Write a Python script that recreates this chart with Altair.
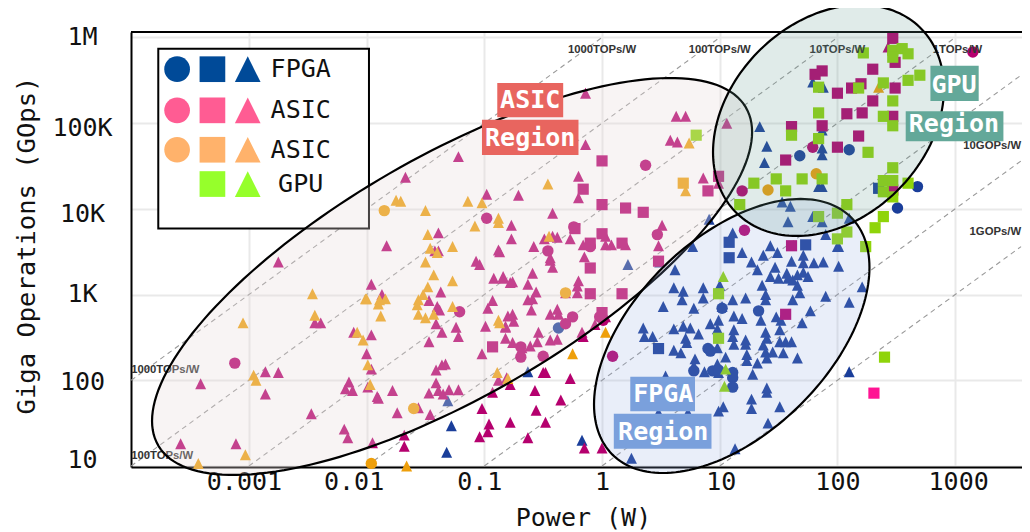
import math
import altair as alt
import pandas as pd

FONT = "DejaVu Sans Mono"

# all readings are (log10 watts, log10 GOps)
fpga_tri = [(1.11,3.72),(1.19,3.49),(1.43,3.57),(1.49,3.49),(1.37,3.46),(1.27,3.38),(1.71,3.46),(1.61,3.39),(1.71,3.37),(1.47,3.32),(1.32,3.29),(1.80,3.37),(1.88,3.38),(2.01,3.56),(2.01,3.33),(1.57,3.25),(1.71,3.26),(1.43,3.21),(1.50,3.19),(1.66,3.23),(1.75,3.21),(1.58,3.19),(1.62,3.17),(1.66,3.11),(1.36,3.11),(1.68,3.02),(1.39,3.00),(1.39,2.94),(1.62,2.94),(1.22,2.96),(0.86,3.08),(0.86,2.96),(0.69,3.04),(0.61,3.08),(0.68,2.94),(1.00,3.11),(1.11,2.94),(1.02,2.86),(0.78,2.84),(0.52,2.86),(1.90,2.98),(2.10,2.91),(1.77,2.81),(1.12,2.75),(1.19,2.72),(0.99,2.70),(0.92,2.66),(0.98,2.60),(1.35,2.70),(1.48,2.74),(1.52,2.70),(1.70,2.67),(0.61,2.60),(0.69,2.63),(0.75,2.61),(0.82,2.54),(0.71,2.49),(0.72,2.44),(1.12,2.59),(1.11,2.51),(1.12,2.42),(1.22,2.47),(1.22,2.42),(1.39,2.56),(1.40,2.49),(1.37,2.41),(1.51,2.59),(1.51,2.45),(1.56,2.45),(1.61,2.45),(0.61,2.35),(0.67,2.32),(0.79,2.25),(0.98,2.38),(1.05,2.27),(1.23,2.30),(1.39,2.33),(1.45,2.33),(1.54,2.32),(1.40,2.26),(1.66,2.26),(1.32,2.20),(1.23,2.23),(0.78,2.17),(0.87,2.10),(0.98,2.19),(0.99,2.09),(1.28,2.07),(1.40,1.91),(1.40,1.86),(1.27,1.78),(1.27,1.67),(1.03,1.69),(0.99,1.64),(1.51,1.69),(1.41,1.50),(1.13,1.20),(2.10,2.10),(2.21,3.09),(0.54,2.05),(0.48,1.62),(0.73,1.62),(0.35,2.61),(0.36,2.51),(0.43,2.51),(0.62,3.29),(0.22,3.35),(0.49,3.38),(0.77,3.56),(1.34,4.96),(1.40,4.73),(1.38,4.54),(1.87,4.71),(1.87,4.63),(1.87,4.26),(1.84,4.26),(1.53,4.08),(1.60,4.03),(1.58,3.85),(1.79,3.91),(1.87,3.85),(2.10,3.89),(2.00,3.56),(1.90,3.70),(1.79,5.48),(1.88,5.42),(1.87,4.92),(0.91,3.88),(-1.31,1.76),(-1.28,1.47),(-1.32,1.16),(-0.63,2.10),(-0.17,1.30),(0.25,1.09)]
fpga_circle = [(1.33,2.81),(1.02,2.84),(0.90,2.37),(0.92,2.34),(0.78,2.11),(0.94,2.11),(0.99,2.12),(1.11,2.09),(1.11,2.03),(1.11,1.92),(1.68,4.62),(2.10,4.69),(2.68,4.26),(2.51,4.01),(-0.37,2.61)]
fpga_square = [(0.48,2.37),(1.08,3.61),(1.08,3.43),(1.73,3.58),(2.35,4.24)]

asic_tri = [(-2.75,3.38),(-1.22,4.61),(-1.67,4.37),(-0.98,4.17),(-0.77,3.81),(-1.39,3.72),(-1.83,3.57),(-0.77,3.65),(-0.88,3.52),(-1.42,3.51),(-1.39,3.51),(-1.07,3.39),(-1.04,3.35),(-0.92,3.19),(-0.84,3.19),(-1.96,3.12),(-1.87,3.00),(-1.37,3.03),(-1.47,2.93),(-1.40,2.86),(-1.38,2.82),(-0.93,2.93),(-0.97,2.84),(-1.41,2.66),(-1.24,2.62),(-0.99,2.63),(-1.36,2.56),(-1.22,2.51),(-0.82,2.63),(-0.82,2.49),(-1.47,2.45),(-2.11,2.56),(-1.96,2.53),(-0.78,3.14),(-0.80,2.75),(-2.44,2.67),(-2.39,2.67),(-2.00,2.31),(-1.96,2.13),(-2.86,2.10),(-2.75,2.09),(-3.41,1.96),(-2.86,1.84),(-2.15,1.98),(-2.18,1.90),(-2.12,1.88),(-1.99,1.92),(-1.78,1.88),(-1.91,1.81),(-1.90,1.79),(-2.47,1.61),(-1.74,1.62),(-1.56,1.68),(-1.46,1.60),(-2.19,1.43),(-2.16,1.33),(-1.95,1.27),(-1.68,1.36),(-1.68,1.23),(-3.58,1.26),(-3.11,1.26),(-1.02,2.31),(-1.41,2.12),(-1.36,2.18),(-1.33,2.19),(-1.41,1.97),(-1.47,1.85),(-1.39,1.88),(-1.35,1.84),(-1.30,1.89),(-1.22,1.89),(-0.88,2.00),(-0.93,1.86),(-1.02,1.67),(-0.96,1.49),(-0.97,1.40),(-1.04,1.34),(-0.78,1.51),(-0.78,1.95),(-0.71,4.16),(-0.42,3.95),(-0.20,4.38),(-0.20,4.13),(-0.49,3.65),(-0.42,3.68),(-0.38,3.67),(-0.27,3.65),(-0.58,3.56),(-0.16,3.58),(0.03,3.58),(0.08,3.58),(0.03,3.68),(0.20,3.58),(-0.15,3.44),(-0.44,3.43),(-0.42,3.32),(0.51,3.81),(0.48,3.57),(-0.87,3.50),(-0.84,3.21),(-0.76,3.15),(-0.59,3.25),(-0.63,3.12),(-0.56,3.03),(-0.63,2.94),(-0.59,2.95),(-0.60,2.82),(-0.76,2.77),(-0.75,2.69),(-0.82,2.62),(-0.76,2.44),(-0.68,2.38),(-0.61,2.40),(-0.55,2.45),(-0.54,2.56),(-0.44,2.47),(-0.38,2.48),(-0.44,2.77),(-0.38,2.83),(-0.37,2.77),(-0.31,3.02),(-0.21,3.02),(-0.21,3.10),(-0.20,3.16),(-0.17,2.56),(-0.16,2.51),(-0.06,2.65),(0.03,2.74),(-0.44,3.40),(-0.48,2.09),(-0.50,2.09),(-0.27,2.02),(-0.81,2.03),(-0.57,1.88),(-0.35,1.77),(-0.56,1.65),(-0.48,1.51),(-0.63,1.33),(-0.15,1.21),(0.00,1.21),(-0.14,5.35),(0.63,5.08),(0.71,5.08),(1.06,5.00),(0.58,4.80),(0.64,4.78),(-0.14,4.75),(0.86,4.36),(0.99,4.30),(2.43,5.89)]
asic_square = [(0.00,4.56),(-0.16,4.23),(0.00,4.05),(0.20,4.01),(0.35,3.96),(-0.23,3.77),(0.00,3.71),(-0.10,3.60),(0.17,3.60),(-0.10,3.31),(-0.10,3.01),(0.17,3.01),(0.00,2.79),(0.48,3.39),(-0.93,2.39),(0.90,4.21),(0.99,4.38),(2.47,5.99),(2.49,5.71),(1.81,5.57),(1.87,5.61),(2.30,5.63),(2.00,5.35),(2.12,5.41),(2.20,5.46),(2.49,5.41),(2.30,5.26),(2.08,5.11),(2.21,5.12),(2.47,5.08),(1.61,4.96),(1.87,4.97),(2.18,4.85),(2.00,4.72),(1.56,4.57),(1.61,3.57),(1.56,2.77),(2.47,4.22)]
asic_bright_square = [(2.31,1.85)]
asic_circle = [(0.37,4.51),(1.19,4.21),(1.79,4.72),(-0.24,3.79),(1.21,3.75),(0.47,3.70),(-0.46,3.51),(-0.10,3.56),(3.15,5.83),(-0.98,3.89),(-1.21,2.80),(-3.12,2.20),(-0.25,2.74),(-0.31,2.66),(-0.69,2.39),(-0.69,2.27),(-0.50,2.28),(-0.02,2.74),(0.01,2.70),(0.09,2.28)]

orange_tri = [(-1.75,4.10),(-1.71,4.09),(-1.14,4.09),(-1.02,4.07),(-1.50,3.98),(-0.88,3.89),(-0.88,3.84),(-1.08,3.80),(-1.48,3.70),(-1.46,3.54),(-1.27,3.56),(-1.40,3.49),(-1.50,3.38),(-1.43,3.23),(-1.27,3.16),(-1.48,3.09),(-1.52,3.00),(-1.56,2.94),(-1.57,2.88),(-1.27,2.86),(-1.56,2.77),(-1.50,2.73),(-1.43,2.77),(-2.01,2.95),(-2.00,2.95),(-1.89,2.94),(-1.84,2.95),(-1.90,2.89),(-1.88,2.75),(-2.08,2.56),(-2.03,2.47),(-0.88,2.70),(-2.46,3.01),(-2.44,2.76),(-3.05,2.67),(-1.99,2.18),(-2.96,2.06),(-2.94,2.00),(-1.97,1.95),(-3.03,1.13),(-3.43,1.03),(-1.66,1.00),(-0.89,2.09),(-0.80,2.02),(-0.46,4.29),(-0.45,3.68),(-0.87,2.67),(-0.25,2.31),(0.03,2.56),(0.74,4.77),(0.71,4.21),(2.35,5.42)]
orange_circle = [(-1.85,3.98),(-1.60,1.67),(-1.96,1.03),(-0.31,3.02),(1.41,4.22),(1.82,4.41)]
orange_square = [(0.69,4.30)]

gpu_square = [(0.80,4.86),(1.61,4.86),(1.84,5.42),(2.18,5.41),(2.39,5.47),(2.22,5.82),(2.47,5.85),(2.55,5.87),(2.47,5.77),(2.60,5.81),(2.70,5.56),(2.60,5.50),(2.47,5.26),(1.84,5.12),(2.39,5.08),(2.47,4.97),(1.84,4.82),(2.26,4.66),(2.47,4.48),(1.29,4.30),(1.48,4.35),(1.70,4.35),(1.87,4.35),(1.56,4.21),(2.39,4.33),(2.47,4.33),(2.60,4.30),(2.39,4.20),(2.47,4.14),(1.17,4.05),(2.08,4.05),(1.84,3.91),(2.00,3.95),(2.39,3.91),(2.32,3.78),(2.08,3.73),(2.00,3.65),(2.24,3.56),(0.99,3.01),(0.99,2.49),(2.40,2.27)]
gpu_tri = [(1.03,3.21),(1.05,2.13),(1.04,1.93)]

# region ellipses, in log10 units: centre x, centre y, half width, half height, tilt in degrees
asic_ellipse = (-1.274, 3.211, 2.549, 2.316, 43.3)
fpga_ellipse = (1.102, 2.517, 1.170, 1.599, 60.0)
gpu_ellipse = (1.924, 5.032, 0.981, 1.348, 74.0)

# efficiency guide lines (log10 GOps per watt; start and end as log10 watts)
iso_k = [6, 5, 4, 3, 2, 1, 0]
iso_start = [-4, -4, -3, -2, -1, 0, 1]
iso_end = [0, 1, 2, 3, 3.56, 3.56, 3.56]

iso_text = ["1000TOPs/W", "100TOPs/W", "10TOPs/W", "1TOPs/W"]
iso_text_x = [0, 1, 2, 3.02]
iso_text_y = [5.85, 5.85, 5.85, 5.85]
iso_left = ["1000TOPs/W", "100TOPs/W"]
iso_left_y = [2.12, 1.12]
iso_right = ["10GOPs/W", "1GOPs/W"]
iso_right_y = [4.73, 3.73]

# region captions: text, centre, box
regions = [
    ("ASIC", -0.61, 5.27, -0.89, -0.33, 5.47, 5.07, "#E8655F"),
    ("Region", -0.61, 4.83, -1.02, -0.20, 5.04, 4.63, "#E8655F"),
    ("GPU", 2.99, 5.45, 2.79, 3.20, 5.67, 5.26, "#63A899"),
    ("Region", 2.99, 4.99, 2.58, 3.41, 5.14, 4.79, "#63A899"),
    ("FPGA", 0.52, 1.84, 0.24, 0.79, 2.04, 1.64, "#7AA0DC"),
    ("Region", 0.52, 1.40, 0.10, 0.93, 1.61, 1.20, "#7AA0DC"),
]

# legend content
legend_box = (-3.77, -1.98, 5.87, 3.77)
legend_cols = {"circle": -3.61, "square": -3.31, "triangle-up": -3.01}
legend_rows = [
    ("FPGA", 5.63, "#004A98", ["circle", "square", "triangle-up"]),
    ("ASIC", 5.15, "#FF5C93", ["circle", "square", "triangle-up"]),
    ("ASIC", 4.69, "#FFB26B", ["circle", "square", "triangle-up"]),
    ("GPU", 4.29, "#96FF2B", ["square", "triangle-up"]),
]
legend_text_x = -2.56

x_ticks = [0.001, 0.01, 0.1, 1, 10, 100, 1000]
y_ticks = [10, 100, 1000, 10000, 100000, 1000000]

TRI = "M0,-1L1,1L-1,1Z"


def tenth(v):
    return 10.0 ** v


def frame(groups):
    rows = []
    for pairs, family, shape in groups:
        for a, b in pairs:
            rows.append({"power": tenth(a), "gops": tenth(b), "family": family, "shape": shape})
    return pd.DataFrame(rows)


def outline(params):
    cx, cy, rx, ry, tilt = params
    rows = []
    for i in range(180):
        t = math.radians(i * 2)
        rows.append({
            "power": tenth(cx + rx * math.cos(t)),
            "gops": tenth(cy + ry * math.cos(t - math.radians(tilt))),
            "i": i,
        })
    return pd.DataFrame(rows)


x_scale = alt.Scale(type="log", domain=[0.0000996, 3698], nice=False, clamp=False)
y_scale = alt.Scale(type="log", domain=[9.73, 1159000], nice=False, clamp=False)

x_axis = alt.Axis(
    values=x_ticks, title="Power (W)", grid=True, gridColor="#e9e9e9", gridWidth=2,
    ticks=False, domainColor="#000", domainWidth=2, labelFont=FONT, labelFontSize=25,
    labelColor="#111", labelPadding=2, labelOverlap=False, labelFlush=False,
    titleFont=FONT, titleFontSize=25, titleFontWeight="normal", titleColor="#111",
    titleX=452, titleY=38,
    labelExpr="datum.value<1 ? format(datum.value,'.3~f') : format(datum.value,'d')",
    labelOffset=alt.expr("datum.value==0.01?-13:datum.value==0.001?-5:datum.value==0.1?-5:datum.value==1000?3:datum.value==10?1:0"),
)
y_axis = alt.Axis(
    values=y_ticks, title="Giga Operations (GOps)", grid=True, gridColor="#e9e9e9", gridWidth=2,
    ticks=False, domainColor="#000", domainWidth=2, labelFont=FONT, labelFontSize=25,
    labelColor="#111", labelAlign="center", labelPadding=49, labelOverlap=False, labelFlush=False,
    titleFont=FONT, titleFontSize=25.5, titleFontWeight="normal", titleColor="#111",
    titleX=-92, titleY=213,
    labelExpr="datum.value>=1000000?'1M':datum.value>=1000?format(datum.value/1000,'d')+'K':format(datum.value,'d')",
    labelOffset=alt.expr("datum.value==10?-6:datum.value==100000?4:datum.value==10000?5:datum.value==1000?-1:datum.value==1000000?-1:datum.value==100?1:0"),
)
X = alt.X("power:Q", scale=x_scale, axis=x_axis)
Y = alt.Y("gops:Q", scale=y_scale, axis=y_axis)

points = frame([
    (fpga_tri, "fpga", "triangle-up"), (fpga_circle, "fpga", "circle"), (fpga_square, "fpga", "square"),
    (asic_tri, "asic", "triangle-up"), (asic_circle, "asic", "circle"), (asic_square, "asic", "square"),
    (asic_bright_square, "bright", "square"),
    (orange_tri, "orange", "triangle-up"), (orange_circle, "orange", "circle"), (orange_square, "orange", "square"),
    (gpu_square, "gpu", "square"), (gpu_tri, "gpu", "triangle-up"),
])

iso_df = pd.DataFrame(
    [{"k": k, "power": tenth(a), "gops": tenth(a + k)} for k, s, e in zip(iso_k, iso_start, iso_end) for a in (s, e)]
)
iso = alt.Chart(iso_df).mark_line(color="#9a9a9a", strokeWidth=1.1, strokeDash=[5, 4], clip=False).encode(
    x=X, y=Y, detail="k:N"
)

box_df = pd.DataFrame([{
    "power": tenth(legend_box[0]), "power2": tenth(legend_box[1]),
    "gops": tenth(legend_box[2]), "gops2": tenth(legend_box[3]),
}])
box = alt.Chart(box_df).mark_rect(fill="white", stroke="black", strokeWidth=2).encode(
    x=X, x2="power2:Q", y=Y, y2="gops2:Q"
)

marks = alt.Chart(points).mark_point(filled=True, opacity=1, strokeWidth=0).encode(
    x=X, y=Y,
    color=alt.Color("family:N", legend=None, scale=alt.Scale(
        domain=["fpga", "asic", "bright", "orange", "gpu"],
        range=["#1A3E9A", "#B5006E", "#FF1493", "#EE9F0B", "#8FD40A"])),
    shape=alt.Shape("shape:N", legend=None, scale=alt.Scale(
        domain=["circle", "square", "triangle-up"], range=["circle", "square", TRI])),
    size=alt.Size("shape:N", legend=None, scale=alt.Scale(
        domain=["circle", "square", "triangle-up"], range=[130, 120, 132])),
)

legend_df = pd.DataFrame([
    {"power": tenth(legend_cols[s]), "gops": tenth(y), "c": c, "shape": s}
    for _, y, c, shapes in legend_rows for s in shapes
])
legend_marks = alt.Chart(legend_df).mark_point(filled=True, opacity=1, strokeWidth=0).encode(
    x=X, y=Y,
    color=alt.Color("c:N", scale=None),
    shape=alt.Shape("shape:N", legend=None, scale=alt.Scale(
        domain=["circle", "square", "triangle-up"], range=["circle", "square", TRI])),
    size=alt.Size("shape:N", legend=None, scale=alt.Scale(
        domain=["circle", "square", "triangle-up"], range=[660, 660, 529])),
)
legend_text_df = pd.DataFrame([
    {"power": tenth(legend_text_x), "gops": tenth(y), "t": t} for t, y, _, _ in legend_rows
])
legend_text = alt.Chart(legend_text_df).mark_text(font=FONT, fontSize=25, color="#111", align="center", baseline="middle").encode(
    x=X, y=Y, text="t:N"
)


def region_shape(params, fill, opacity):
    return alt.Chart(outline(params)).mark_line(
        interpolate="linear-closed", stroke="black", strokeWidth=2.2, fill=fill, fillOpacity=opacity, clip=False
    ).encode(x=X, y=Y, order=alt.Order("i:Q"))


shape_asic = region_shape(asic_ellipse, "#E8DADA", 0.3)
shape_fpga = region_shape(fpga_ellipse, "#91AAE1", 0.2)
shape_gpu = region_shape(gpu_ellipse, "#649B91", 0.2)

region_df = pd.DataFrame([
    {"t": t, "px": tenth(cx), "py": tenth(cy), "power": tenth(a), "power2": tenth(b),
     "gops": tenth(c), "gops2": tenth(d), "bg": bg}
    for t, cx, cy, a, b, c, d, bg in regions
])
region_bg = alt.Chart(region_df).mark_rect().encode(
    x=X, x2="power2:Q", y=Y, y2="gops2:Q", color=alt.Color("bg:N", scale=None)
)
region_text = alt.Chart(region_df).mark_text(font=FONT, fontSize=25, color="white", align="center", baseline="middle", fontWeight="bold").encode(
    x=alt.X("px:Q", scale=x_scale, axis=x_axis), y=alt.Y("py:Q", scale=y_scale, axis=y_axis), text="t:N"
)

iso_label_df = pd.DataFrame(
    [{"t": t, "power": tenth(a), "gops": tenth(b), "al": "c"} for t, a, b in zip(iso_text, iso_text_x, iso_text_y)]
)
iso_left_df = pd.DataFrame([{"t": t, "power": tenth(-4.0), "gops": tenth(b)} for t, b in zip(iso_left, iso_left_y)])
iso_right_df = pd.DataFrame([{"t": t, "power": tenth(3.56), "gops": tenth(b)} for t, b in zip(iso_right, iso_right_y)])
label_kw = dict(font="Liberation Sans", fontSize=11.3, fontWeight="bold", color="#333", baseline="middle")
iso_labels = alt.Chart(iso_label_df).mark_text(align="center", **label_kw).encode(x=X, y=Y, text="t:N")
iso_labels_l = alt.Chart(iso_left_df).mark_text(align="left", **label_kw).encode(x=X, y=Y, text="t:N")
iso_labels_r = alt.Chart(iso_right_df).mark_text(align="right", **label_kw).encode(x=X, y=Y, text="t:N")

top_line = alt.Chart(pd.DataFrame({"a": [0]})).mark_rule(color="black", strokeWidth=2).encode(
    x=alt.value(0), x2=alt.value(891), y=alt.value(0)
)

chart = alt.layer(
    iso, marks, box, legend_marks, legend_text, iso_labels, iso_labels_l, iso_labels_r, top_line,
    shape_asic, shape_fpga, shape_gpu, region_bg, region_text,
).resolve_scale(color="independent", shape="independent", size="independent").properties(
    width=891, height=435,
    padding={"left": 123, "top": 24, "right": 0, "bottom": 64},
    autosize=alt.AutoSizeParams(type="none"),
    background="white",
).configure_view(strokeWidth=0)

chart.save("out.html", embed_options={"renderer": "svg", "actions": False})
